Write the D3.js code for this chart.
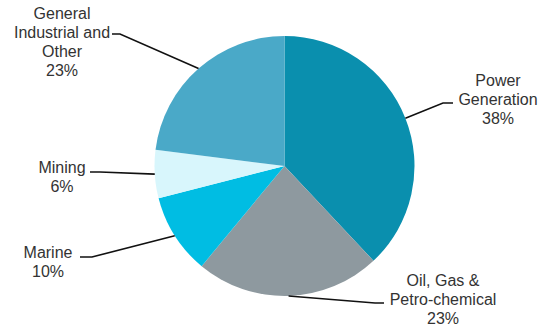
<!DOCTYPE html>
<html>
<head>
<meta charset="utf-8">
<script src="https://cdn.jsdelivr.net/npm/d3@7"></script>
<style>
  html, body { margin: 0; padding: 0; background: #fff; }
  svg { display: block; }
</style>
</head>
<body>
<svg id="pie" width="541" height="328"></svg>
<script>
const categories = ['Power Generation', 'Oil, Gas & Petro-chemical', 'Marine', 'Mining', 'General Industrial and Other'];
const shares = [38, 23, 10, 6, 23];
const labelLines = [
  ['Power', 'Generation'],
  ['Oil, Gas &', 'Petro-chemical'],
  ['Marine'],
  ['Mining'],
  ['General', 'Industrial and', 'Other']
];
const sliceColors = ['#0a8fae', '#8e999f', '#00bde3', '#d8f6fc', '#4aa9c8'];

function renderPie() {
  const svg = d3.select('#pie');
  const cx = 284.5, cy = 166, radius = 130;
  const lineHeight = 19;

  // label placement: text centre x, first baseline, leader elbow and end
  const layout = [
    {x: 498, y: 86,  elbow: [443, 103], end: [453, 103]},
    {x: 443, y: 286, elbow: [375, 303], end: [384, 303]},
    {x: 48,  y: 258, elbow: [92, 257],  end: [80, 257]},
    {x: 62,  y: 173, elbow: [100, 172], end: [90, 172]},
    {x: 62,  y: 19,  elbow: [120, 34],  end: [112, 34]}
  ];

  const g = svg.append('g').attr('transform', `translate(${cx},${cy})`);

  const pie = d3.pie().sort(null).value(d => d);
  const arcs = pie(shares);
  const arc = d3.arc().innerRadius(0).outerRadius(radius);

  // Slices
  g.selectAll('path.slice')
    .data(arcs)
    .enter()
    .append('path')
    .attr('class', 'slice')
    .attr('d', arc)
    .attr('fill', (d, i) => sliceColors[i]);

  // Leader lines, starting on the rim at the slice mid-angle
  svg.selectAll('polyline.leader')
    .data(arcs)
    .enter()
    .append('polyline')
    .attr('class', 'leader')
    .attr('fill', 'none')
    .attr('stroke', '#111')
    .attr('stroke-width', 1.6)
    .attr('points', (d, i) => {
      const a = (d.startAngle + d.endAngle) / 2;
      const sx = cx + Math.sin(a) * radius;
      const sy = cy - Math.cos(a) * radius;
      const L = layout[i];
      return [[sx, sy], L.elbow, L.end].map(p => p.join(',')).join(' ');
    });

  // Labels
  const labels = svg.selectAll('text.label')
    .data(arcs)
    .enter()
    .append('text')
    .attr('class', 'label')
    .attr('text-anchor', 'middle')
    .attr('font-family', '"Liberation Sans", Arial, sans-serif')
    .attr('font-size', '16px')
    .attr('fill', '#333');

  labels.each(function(d, i) {
    const t = d3.select(this);
    const L = layout[i];
    const lines = labelLines[i].concat([shares[i] + '%']);
    lines.forEach((s, k) => {
      t.append('tspan')
        .attr('x', L.x)
        .attr('y', L.y + k * lineHeight)
        .text(s);
    });
  });
}

renderPie();
</script>
</body>
</html>
